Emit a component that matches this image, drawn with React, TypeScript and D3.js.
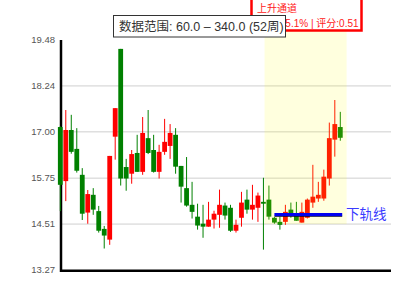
import React from "react";
import * as d3 from "d3";

const opens = [17.13,15.67,17.05,16.54,15.84,14.82,15.30,14.86,14.38,14.09,16.87,19.24,16.05,15.87,16.43,15.92,16.83,16.51,15.92,16.46,16.62,16.92,16.08,15.48,15.03,14.71,14.52,14.44,14.63,14.76,15.01,14.95,14.33,14.68,15.17,14.90,14.95,15.11,15.17,14.68,14.57,14.57,14.90,14.76,14.55,14.68,15.09,15.20,15.20,15.74,16.79,17.13];
const closes = [15.57,17.05,16.46,15.95,14.79,15.32,14.90,14.33,14.20,16.35,17.64,15.74,15.74,16.40,15.92,16.97,16.43,15.92,16.46,16.73,16.97,16.06,15.52,15.01,14.84,14.47,14.44,14.63,14.79,15.03,14.74,14.33,14.49,15.09,14.90,15.03,15.28,15.06,14.71,14.55,14.49,14.84,14.74,14.60,14.84,15.17,15.25,15.30,15.79,16.83,17.21,16.84];
const highs = [17.15,17.59,17.46,17.10,16.02,15.43,15.48,15.00,14.46,16.35,17.64,19.24,16.27,16.51,16.92,17.40,17.59,16.92,16.65,17.35,17.21,17.10,16.08,16.32,15.65,15.06,15.03,15.11,14.87,15.44,15.09,15.03,14.63,15.38,15.44,15.57,15.36,15.76,15.55,14.70,14.71,15.03,15.09,15.11,15.09,15.20,16.11,15.65,15.98,17.25,17.86,17.54];
const lows = [14.86,15.13,16.41,15.90,14.62,14.52,14.76,14.28,13.85,13.95,16.25,15.55,15.41,15.60,15.92,15.84,16.40,15.90,15.74,16.38,16.27,15.87,15.09,14.98,14.66,14.36,14.14,14.44,14.39,14.41,14.63,14.30,14.28,14.44,14.79,14.63,14.57,13.82,14.63,14.52,14.36,14.49,14.68,14.60,14.55,14.66,14.95,15.11,15.14,15.55,16.33,16.76];

const yTicks = [19.48, 18.24, 17.0, 15.75, 14.51, 13.27];
const gridTicks = [18.24, 17.0, 15.75, 14.51];
const highlightRange = [37.2, 52.15];
const highlightValueBottom = 14.51;
const railValue = 14.77;
const railRange = [39, 51.35];
const railLabel = "下轨线";
const channelTitle = "上升通道";
const channelStats = "涨幅:15.1% | 评分:0.51";
const rangeText = "数据范围: 60.0 – 340.0 (52周)";

const FONT = "'Liberation Sans', Arial, 'Noto Sans CJK SC', sans-serif";

export default function App() {
  const x = d3.scaleLinear().domain([0, opens.length - 1]).range([60.3, 340.3]);
  const y = d3.scaleLinear().domain([13.27, 19.48]).range([270, 40]);
  const cw = 4.8;
  return (
    <svg width={400} height={300} style={{ position: "absolute", left: 0, top: 0 }} fontFamily={FONT}>
      <rect x={0} y={0} width={400} height={300} fill="#fff" />
      {gridTicks.map((t) => (
        <line key={t} x1={61} x2={391} y1={y(t)} y2={y(t)} stroke="#cfcfcf" strokeWidth={1} />
      ))}
      {yTicks.map((t) => (
        <text key={t} x={55} y={y(t)} dy="0.35em" textAnchor="end" fontSize={9.5} fill="#555">
          {t.toFixed(2)}
        </text>
      ))}
      <line x1={61} x2={61} y1={40} y2={272} stroke="#000" strokeWidth={2.5} />
      <line x1={60} x2={391} y1={270.8} y2={270.8} stroke="#000" strokeWidth={2.5} />
      {opens.map((o, i) => {
        const c = closes[i];
        const up = c >= o;
        const col = up ? "#ff0000" : "#008000";
        const top = y(Math.max(o, c));
        const bot = y(Math.min(o, c));
        return (
          <g key={i}>
            <line x1={x(i)} x2={x(i)} y1={y(highs[i])} y2={y(lows[i])} stroke={col} strokeWidth={1} />
            <rect x={x(i) - cw / 2} y={top} width={cw} height={Math.max(1.5, bot - top)} fill={col} />
          </g>
        );
      })}
      <rect
        x={x(highlightRange[0])}
        y={10}
        width={x(highlightRange[1]) - x(highlightRange[0])}
        height={y(highlightValueBottom) - 10}
        fill="rgb(255,255,0)"
        fillOpacity={0.13}
      />
      <line x1={x(railRange[0])} x2={x(railRange[1])} y1={y(railValue) + 1.8} y2={y(railValue) + 1.8} stroke="#000033" strokeWidth={1} />
      <line x1={x(railRange[0])} x2={x(railRange[1])} y1={y(railValue)} y2={y(railValue)} stroke="#0000f0" strokeWidth={3} />
      <text x={346} y={y(railValue)} dy="0.35em" fontSize={13.5} fill="#3a3aff">{railLabel}</text>
      <rect x={251.5} y={-10} width={110} height={40.5} fill="#fff" stroke="#ff0000" strokeWidth={2.5} />
      <text x={257} y={8} dy="0.35em" fontSize={10} fill="#ff2020">{channelTitle}</text>
      <text x={257} y={23.5} dy="0.35em" fontSize={10} fill="#ff2020">{channelStats}</text>
      <rect x={113.5} y={15.5} width={172} height={21.5} fill="#fff" stroke="#333" strokeWidth={1} />
      <text x={119} y={27} dy="0.35em" fontSize={12.5} fill="#333">{rangeText}</text>
    </svg>
  );
}
